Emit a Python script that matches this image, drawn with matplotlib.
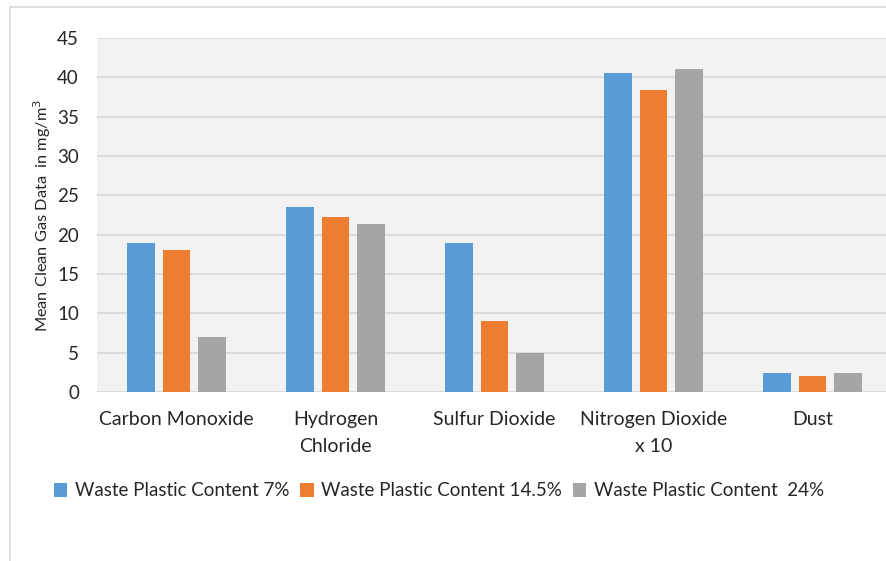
import numpy as np
import matplotlib.pyplot as plt
from matplotlib.patches import Rectangle

plt.rcParams['font.family'] = ['Lato', 'DejaVu Sans']

categories = ['Carbon Monoxide', 'Hydrogen\nChloride', 'Sulfur Dioxide',
              'Nitrogen Dioxide\nx 10', 'Dust']
series_names = ['Waste Plastic Content 7%', 'Waste Plastic Content 14.5%',
                'Waste Plastic Content  24%']
wpc_7 = [19.0, 23.5, 19.0, 40.5, 2.4]
wpc_14_5 = [18.0, 22.3, 9.0, 38.4, 2.0]
wpc_24 = [7.0, 21.4, 5.0, 41.0, 2.4]
yticks = [0, 5, 10, 15, 20, 25, 30, 35, 40, 45]

colors = ['#5B9BD5', '#ED7D31', '#A5A5A5']

fig = plt.figure(figsize=(8.86, 5.61), dpi=100)
fig.patches.append(Rectangle((10 / 886, -0.1), 1.0, 1.1 - 7 / 561,
                             transform=fig.transFigure, fill=False,
                             edgecolor='#D9D9D9', linewidth=1.2))

ax = fig.add_axes([97 / 886, 1 - 392 / 561, 795 / 886, 354 / 561])
ax.set_facecolor('#F2F2F2')

x = np.arange(len(categories))
width = 0.174
step = 0.225
for i, (vals, name) in enumerate(zip([wpc_7, wpc_14_5, wpc_24], series_names)):
    ax.bar(x + (i - 1) * step, vals, width, color=colors[i], label=name,
           zorder=3)

ax.set_xlim(-0.5, len(categories) - 0.5)
ax.set_ylim(0, 45)
ax.set_yticks(yticks)
ax.set_xticks(x)
ax.set_xticklabels(categories, fontsize=14, linespacing=1.65, color='#262626')
ax.tick_params(axis='y', length=0, pad=13, labelsize=13.5, labelcolor='#262626')
ax.tick_params(axis='x', length=0, pad=14)
ax.grid(axis='y', color='#D9D9D9', linewidth=1.3, zorder=0)
for s in ax.spines.values():
    s.set_visible(False)

ax.set_ylabel('Mean Clean Gas Data  in mg/m$^3$', fontsize=11.8,
              color='#262626', labelpad=3)

fig.legend(loc='center', bbox_to_anchor=(439 / 886, 1 - 491 / 561), ncol=3,
           frameon=False, fontsize=13.5, handlelength=0.7, handleheight=0.7,
           handletextpad=0.4, columnspacing=0.6, labelcolor='#262626')

fig.savefig('out.png', dpi=100, facecolor='white')
